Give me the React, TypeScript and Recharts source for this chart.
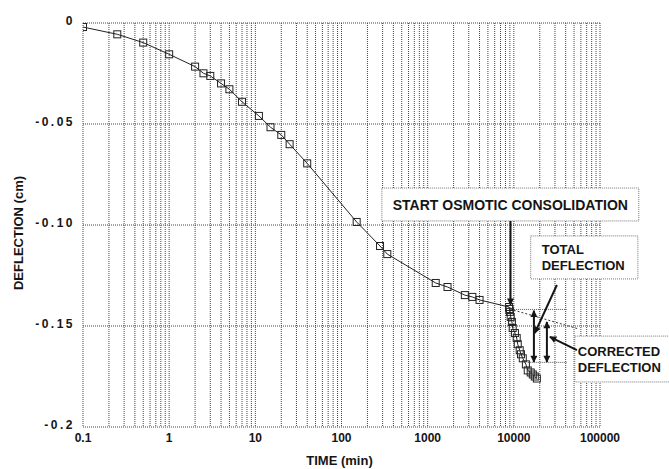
import React from 'react';
import {
  ComposedChart,
  Line,
  XAxis,
  YAxis,
  CartesianGrid,
  ReferenceArea,
  ReferenceLine,
} from 'recharts';

// time (min) of each reading
const times = [
  0.1, 0.25, 0.5, 1, 2, 2.5, 3, 4, 5, 7, 11, 15, 20, 25, 40, 150, 280, 340,
  1240, 1700, 2700, 3300, 4000, 8800, 8900, 9000, 9200, 9500, 9700, 10300,
  10800, 11100, 11700, 12100, 12700, 13800, 14500, 15700, 16600, 17500, 18500,
];
// deflection (cm)
const deflection = [
  -0.002, -0.0056, -0.0097, -0.0155, -0.0216, -0.0249, -0.0262, -0.0299,
  -0.0328, -0.039, -0.046, -0.0516, -0.0554, -0.06, -0.0695, -0.0985, -0.1104,
  -0.1144, -0.1287, -0.1307, -0.1347, -0.1356, -0.1371, -0.1406, -0.1416,
  -0.143, -0.1455, -0.148, -0.151, -0.1535, -0.156, -0.159, -0.162, -0.164,
  -0.166, -0.169, -0.172, -0.173, -0.174, -0.175, -0.176,
];

const yTicks = [0, -0.05, -0.1, -0.15, -0.2];
const yTickLabels = ['0', '-0.05', '-0.10', '-0.15', '-0.2'];
const decades = [0.1, 1, 10, 100, 1000, 10000];
const multipliers = [1, 2, 3, 4, 5, 6, 7, 8, 9];

// log grid: every 1..9 step in each decade, plus the last decade line
const xTicks: number[] = [];
decades.forEach((d) => multipliers.forEach((m) => xTicks.push(Number((d * m).toPrecision(2)))));
xTicks.push(100000);

const data = times.map((t, i) => ({ t, d: deflection[i] }));

const FONT = '"Liberation Sans", Arial, Helvetica, sans-serif';
const INK = '#151515';

const isDecade = (v: number) => Math.abs(Math.log10(v) - Math.round(Math.log10(v))) < 1e-9;

const SquareDot = (props: any) => {
  const { cx, cy, index } = props;
  if (cx == null || cy == null) return null;
  return (
    <rect key={index} x={cx - 3.5} y={cy - 3.5} width={7} height={7} fill="none" stroke="#222" strokeWidth={1} />
  );
};

const boxLabel = (lines: string[], size: number, align: 'middle' | 'start', pad = 11) => (props: any) => {
  const { x, y, width, height } = props.viewBox;
  const lh = size + 3;
  const top = y + height / 2 - ((lines.length - 1) * lh) / 2;
  return (
    <g>
      {lines.map((s, i) => (
        <text
          key={s}
          x={align === 'middle' ? x + width / 2 : x + pad}
          y={top + i * lh}
          dy="0.36em"
          textAnchor={align}
          fontFamily={FONT}
          fontWeight="bold"
          fontSize={size}
          fill={INK}
        >
          {s}
        </text>
      ))}
    </g>
  );
};

const arrowShape = (start: boolean, end: boolean, width = 2) => (p: any) => (
  <line
    x1={p.x1}
    y1={p.y1}
    x2={p.x2}
    y2={p.y2}
    stroke={INK}
    strokeWidth={width}
    markerStart={start ? 'url(#ah)' : undefined}
    markerEnd={end ? 'url(#ah)' : undefined}
  />
);

export default function App() {
  return (
    <div style={{ position: 'fixed', left: 0, top: 0, background: '#fff' }}>
      <ComposedChart
        width={669}
        height={469}
        data={data}
        margin={{ top: 23, right: 69, left: 0, bottom: 0 }}
      >
        <defs>
          <marker
            id="ah"
            viewBox="0 0 10 10"
            refX="9"
            refY="5"
            markerUnits="userSpaceOnUse"
            markerWidth="8"
            markerHeight="7"
            orient="auto-start-reverse"
          >
            <path d="M0,0 L10,5 L0,10 z" fill={INK} />
          </marker>
        </defs>

        <CartesianGrid stroke="#444" strokeDasharray="1 1" />

        <XAxis
          dataKey="t"
          type="number"
          scale="log"
          domain={[0.1, 100000]}
          ticks={xTicks}
          interval={0}
          allowDataOverflow
          axisLine={false}
          tickLine={false}
          tickSize={4}
          height={42}
          tick={{ fontFamily: FONT, fontWeight: 'bold', fontSize: 12, fill: INK }}
          tickFormatter={(v: number) => (isDecade(v) ? String(v) : '')}
          label={(props: any) => {
            const { x, y, width } = props.viewBox;
            return (
              <text x={x + width / 2 - 2} y={y + 33} dy="0.36em" textAnchor="middle" fontFamily={FONT} fontWeight="bold" fontSize={13} fill={INK}>
                TIME (min)
              </text>
            );
          }}
        />
        <YAxis
          type="number"
          domain={[-0.2, 0]}
          ticks={yTicks}
          width={83}
          axisLine={false}
          tickLine={false}
          tick={{ fontFamily: FONT, fontWeight: 'bold', fontSize: 12, fill: INK, letterSpacing: 2.5, dy: -2 }}
          tickFormatter={(v: number) => yTickLabels[yTicks.indexOf(v)] ?? String(v)}
          label={(props: any) => {
            const { y, height } = props.viewBox;
            const cx = 18;
            const cy = y + height / 2 + 8;
            return (
              <text x={cx} y={cy} dy="0.36em" textAnchor="middle" transform={`rotate(-90 ${cx} ${cy})`} fontFamily={FONT} fontWeight="bold" fontSize={13} fill={INK}>
                DEFLECTION (cm)
              </text>
            );
          }}
        />

        {/* extrapolated primary consolidation line */}
        <ReferenceLine
          segment={[{ x: 9000, y: -0.1416 }, { x: 57000, y: -0.1515 }]}
          stroke="#333"
          strokeDasharray="2 2"
          ifOverflow="visible"
        />
        <ReferenceLine segment={[{ x: 9000, y: -0.1418 }, { x: 41000, y: -0.1418 }]} stroke="#555" strokeDasharray="1 1" ifOverflow="visible" />
        <ReferenceLine segment={[{ x: 14500, y: -0.168 }, { x: 41000, y: -0.168 }]} stroke="#555" strokeDasharray="1 1" ifOverflow="visible" />

        <Line
          dataKey="d"
          type="linear"
          stroke="#222"
          strokeWidth={1}
          dot={<SquareDot />}
          activeDot={false}
          isAnimationActive={false}
        />

        {/* annotation boxes */}
        <ReferenceArea
          x1={294}
          x2={282000}
          y1={-0.0817}
          y2={-0.098}
          fill="#fff"
          fillOpacity={1}
          stroke="#777"
          strokeDasharray="1 1"
          ifOverflow="visible"
          label={boxLabel(['START OSMOTIC  CONSOLIDATION'], 14, 'middle')}
        />
        <ReferenceArea
          x1={15700}
          x2={275000}
          y1={-0.1054}
          y2={-0.1267}
          fill="#fff"
          fillOpacity={1}
          stroke="#777"
          strokeDasharray="1 1"
          ifOverflow="visible"
          label={boxLabel(['TOTAL', 'DEFLECTION'], 13, 'start', 11)}
        />
        <ReferenceArea
          x1={51000}
          x2={700000}
          y1={-0.155}
          y2={-0.1777}
          fill="#fff"
          fillOpacity={1}
          stroke="#777"
          strokeDasharray="1 1"
          ifOverflow="visible"
          label={boxLabel(['CORRECTED', 'DEFLECTION'], 13, 'start', 3)}
        />

        {/* arrows */}
        <ReferenceLine segment={[{ x: 9150, y: -0.098 }, { x: 9150, y: -0.1395 }]} ifOverflow="visible" shape={arrowShape(false, true, 2)} />
        <ReferenceLine segment={[{ x: 31600, y: -0.1297 }, { x: 17500, y: -0.1535 }]} ifOverflow="visible" shape={arrowShape(false, true, 2)} />
        <ReferenceLine segment={[{ x: 17100, y: -0.1424 }, { x: 17100, y: -0.1678 }]} ifOverflow="visible" shape={arrowShape(true, true, 2)} />
        <ReferenceLine segment={[{ x: 24200, y: -0.148 }, { x: 24200, y: -0.1678 }]} ifOverflow="visible" shape={arrowShape(true, true, 2)} />
        <ReferenceLine segment={[{ x: 54000, y: -0.1619 }, { x: 26200, y: -0.1554 }]} ifOverflow="visible" shape={arrowShape(false, true, 2)} />
      </ComposedChart>
    </div>
  );
}
